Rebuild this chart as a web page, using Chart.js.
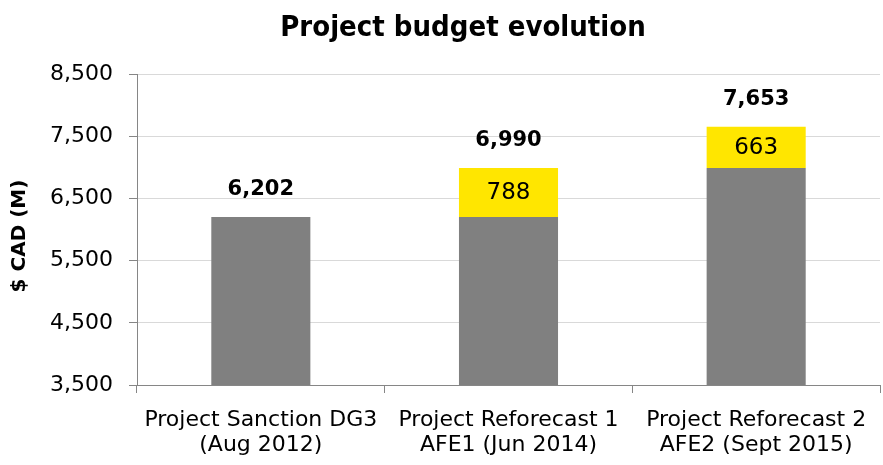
<!DOCTYPE html>
<html><head><meta charset="utf-8">
<script src="https://cdn.jsdelivr.net/npm/chart.js@4.4.1/dist/chart.umd.min.js"></script>
<style>html,body{margin:0;padding:0;background:#fff;}#wrap{width:883px;height:465px;}</style>
</head><body><div id="wrap"><canvas id="c" width="883" height="465"></canvas></div>
<script>
const categories = [["Project Sanction DG3","(Aug 2012)"],["Project Reforecast 1","AFE1 (Jun 2014)"],["Project Reforecast 2","AFE2 (Sept 2015)"]];
const baseValues = [6202, 6202, 6990];
const increaseValues = [0, 788, 663];
const totalLabels = ["6,202", "6,990", "7,653"];
const yTicks = [3500, 4500, 5500, 6500, 7500, 8500];
const titleText = "Project budget evolution";
const yTitle = "$ CAD (M)";

const fmt = v => v.toLocaleString('en-US');

const labelPlugin = {
  id: 'labels',
  afterDraw(chart) {
    const ctx = chart.ctx;
    const x = chart.scales.x, y = chart.scales.y;
    ctx.save();
    ctx.fillStyle = '#000';
    ctx.textAlign = 'center'; ctx.textBaseline = 'middle';
    // title
    ctx.font = 'bold 29px "Liberation Sans Narrow", "DejaVu Sans Condensed", sans-serif';
    ctx.fillText(titleText, 463, 28);
    // y title
    ctx.save();
    ctx.translate(20, 236);
    ctx.rotate(-Math.PI/2);
    ctx.font = 'bold 20px "DejaVu Sans", sans-serif';
    ctx.fillText(yTitle, 0, 0);
    ctx.restore();
    // x category labels
    ctx.textBaseline = 'alphabetic';
    ctx.font = '22px "DejaVu Sans", sans-serif';
    for (let i = 0; i < categories.length; i++) {
      const cx = x.getPixelForValue(i);
      categories[i].forEach((line, j) => {
        ctx.fillText(line, cx, x.top + 41 + j * 25);
      });
    }
    ctx.textBaseline = 'middle';
    // totals
    ctx.font = 'bold 21px "DejaVu Sans", sans-serif';
    for (let i = 0; i < categories.length; i++) {
      const total = baseValues[i] + increaseValues[i];
      const cx = x.getPixelForValue(i);
      ctx.fillText(totalLabels[i], cx, y.getPixelForValue(total) - 27);
    }
    // increase labels
    ctx.font = '23px "DejaVu Sans", sans-serif';
    for (let i = 0; i < categories.length; i++) {
      if (!increaseValues[i]) continue;
      const cx = x.getPixelForValue(i);
      const mid = baseValues[i] + increaseValues[i] / 2;
      ctx.fillText(fmt(increaseValues[i]), cx, y.getPixelForValue(mid) + 1);
    }
    ctx.restore();
  }
};

new Chart(document.getElementById('c'), {
  type: 'bar',
  data: {
    labels: categories,
    datasets: [
      { data: baseValues, backgroundColor: '#808080', borderWidth: 0 },
      { data: increaseValues, backgroundColor: '#FFE600', borderWidth: 0 }
    ]
  },
  options: {
    responsive: false,
    animation: false,
    devicePixelRatio: 1,
    layout: { padding: { top: 74, right: 3, left: 0, bottom: 0 } },
    plugins: { legend: { display: false }, tooltip: { enabled: false } },
    datasets: { bar: { categoryPercentage: 1, barPercentage: 0.4 } },
    scales: {
      x: {
        stacked: true,
        offset: true,
        grid: { offset: true, display: true, drawOnChartArea: false, color: '#868686', tickLength: 8, tickWidth: 1 },
        border: { color: '#868686', width: 1 },
        ticks: { display: false },
        afterFit(s) { s.height = 80; }
      },
      y: {
        stacked: true,
        min: 3500, max: 8500,
        afterBuildTicks(s) { s.ticks = yTicks.map(v => ({ value: v })); },
        grid: { color: '#D9D9D9', lineWidth: 1, tickLength: 8, tickColor: '#868686' },
        border: { color: '#868686', width: 1 },
        ticks: { color: '#000', font: { family: '"DejaVu Sans", sans-serif', size: 22 }, padding: 16, callback: v => fmt(v) },
        afterFit(s) { s.width = 137; }
      }
    }
  },
  plugins: [labelPlugin]
});
</script></body></html>
